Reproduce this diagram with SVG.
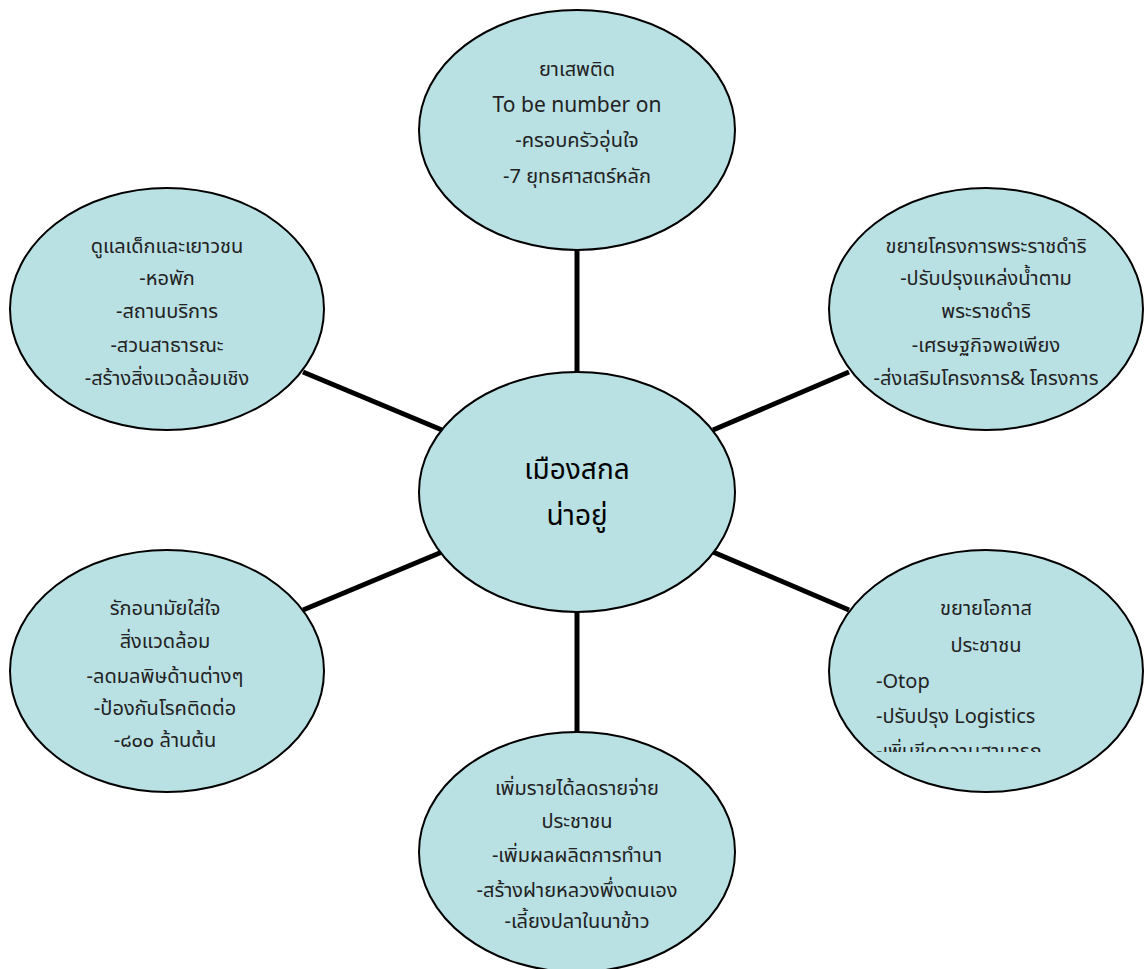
<svg xmlns="http://www.w3.org/2000/svg" width="1148" height="969" viewBox="0 0 1148 969">
<style>
.node{fill:#b9e0e3;stroke:#000;stroke-width:2}
.conn{stroke:#000;stroke-width:5;fill:none}
.t{font-family:"Noto Sans Thai","Noto Sans","DejaVu Sans",sans-serif;font-size:20px;fill:#222;text-anchor:middle}
.e{font-size:21px}
.l{text-anchor:start}
.c{font-size:28px;fill:#000}
</style>
<defs>
<clipPath id="clipBR"><rect x="820" y="560" width="330" height="192"/></clipPath>
</defs>
<rect width="1148" height="969" fill="#fff"/>
<g id="connectors">
<line class="conn" x1="577" y1="250" x2="577" y2="372"/>
<line class="conn" x1="577" y1="612" x2="577" y2="733"/>
<line class="conn" x1="303" y1="372" x2="442" y2="430"/>
<line class="conn" x1="713" y1="430" x2="849" y2="372"/>
<line class="conn" x1="303" y1="610" x2="442" y2="552"/>
<line class="conn" x1="713" y1="552" x2="849" y2="610"/>
</g>
<g id="node-top">
<ellipse class="node" cx="577" cy="130" rx="158" ry="120"/>
<text class="t" x="577" y="76">ยาเสพติด</text>
<text class="t e" x="577" y="112">To be number on</text>
<text class="t" x="577" y="147">-ครอบครัวอุ่นใจ</text>
<text class="t" x="577" y="183">-7 ยุทธศาสตร์หลัก</text>
</g>
<g id="node-center">
<ellipse class="node" cx="577" cy="492" rx="158" ry="120"/>
<text class="t c" x="577" y="479">เมืองสกล</text>
<text class="t c" x="577" y="525">น่าอยู่</text>
</g>
<g id="node-topleft">
<ellipse class="node" cx="167" cy="309" rx="157" ry="121"/>
<text class="t" x="167" y="253">ดูแลเด็กและเยาวชน</text>
<text class="t" x="167" y="285">-หอพัก</text>
<text class="t" x="167" y="318">-สถานบริการ</text>
<text class="t" x="167" y="352">-สวนสาธารณะ</text>
<text class="t" x="167" y="385">-สร้างสิ่งแวดล้อมเชิง</text>
</g>
<g id="node-topright">
<ellipse class="node" cx="986" cy="309" rx="157" ry="121"/>
<text class="t" x="986" y="253">ขยายโครงการพระราชดำริ</text>
<text class="t" x="986" y="285">-ปรับปรุงแหล่งน้ำตาม</text>
<text class="t" x="986" y="318">พระราชดำริ</text>
<text class="t" x="986" y="352">-เศรษฐกิจพอเพียง</text>
<text class="t" x="986" y="385">-ส่งเสริมโครงการ&amp; โครงการ</text>
</g>
<g id="node-bottomleft">
<ellipse class="node" cx="167" cy="671" rx="157" ry="121"/>
<text class="t" x="165" y="615">รักอนามัยใส่ใจ</text>
<text class="t" x="165" y="648">สิ่งแวดล้อม</text>
<text class="t" x="165" y="683">-ลดมลพิษด้านต่างๆ</text>
<text class="t" x="165" y="715">-ป้องกันโรคติดต่อ</text>
<text class="t" x="165" y="747">-๘๐๐ ล้านต้น</text>
</g>
<g id="node-bottomright">
<ellipse class="node" cx="986" cy="671" rx="157" ry="121"/>
<g clip-path="url(#clipBR)">
<text class="t" x="986" y="615">ขยายโอกาส</text>
<text class="t" x="986" y="652">ประชาชน</text>
<text class="t l" x="876" y="688">-Otop</text>
<text class="t l" x="876" y="723">-ปรับปรุง Logistics</text>
<text class="t l" x="876" y="758">-เพิ่มขีดความสามารถ</text>
</g>
</g>
<g id="node-bottom">
<ellipse class="node" cx="577" cy="852" rx="158" ry="120"/>
<text class="t" x="577" y="795">เพิ่มรายได้ลดรายจ่าย</text>
<text class="t" x="577" y="828">ประชาชน</text>
<text class="t" x="577" y="862">-เพิ่มผลผลิตการทำนา</text>
<text class="t" x="577" y="897">-สร้างฝายหลวงพึ่งตนเอง</text>
<text class="t" x="577" y="928">-เลี้ยงปลาในนาข้าว</text>
</g>
</svg>
